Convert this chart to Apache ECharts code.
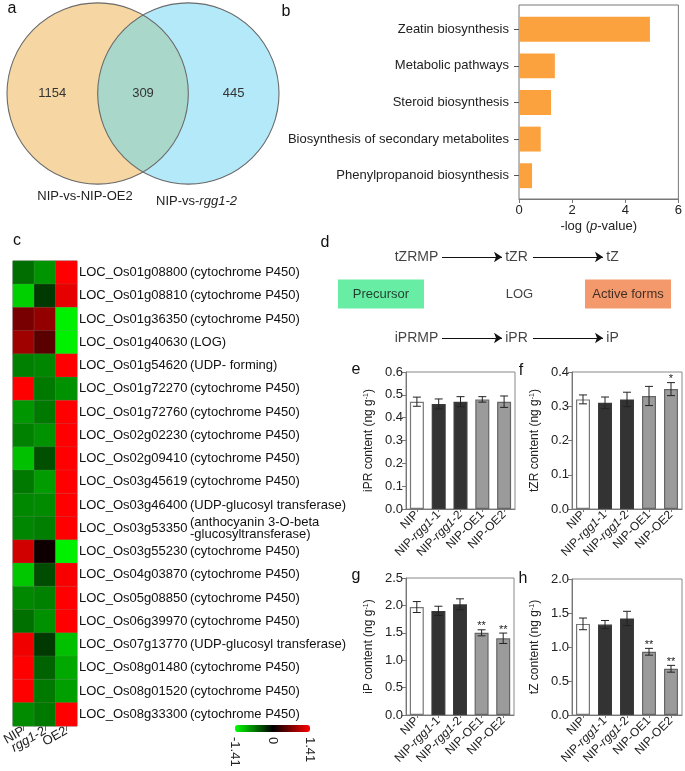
<!DOCTYPE html>
<html><head><meta charset="utf-8">
<script src="https://cdn.jsdelivr.net/npm/echarts@6/dist/echarts.min.js"></script>
<style>html,body{margin:0;padding:0;background:#fff}#c{width:685px;height:771px}</style>
</head><body><div id="c"></div>
<script>
const FONT = 'Liberation Sans, Arial, Helvetica, sans-serif';

// ---------- a: Venn ----------
const vennSetNames = ['NIP-vs-NIP-OE2', 'NIP-vs-rgg1-2'];
const vennCounts = [1154, 309, 445]; // left only, shared, right only

// ---------- b: KEGG enrichment ----------
const keggTerms = ['Zeatin biosynthesis', 'Metabolic pathways', 'Steroid biosynthesis',
  'Biosynthesis of secondary metabolites', 'Phenylpropanoid biosynthesis'];
const keggValues = [4.82, 1.32, 1.18, 0.80, 0.48];

// ---------- c: heatmap ----------
const heatCols = ['NIP', 'rgg1-2', 'OE2'];
const geneIds = ['LOC_Os01g08800', 'LOC_Os01g08810', 'LOC_Os01g36350', 'LOC_Os01g40630', 'LOC_Os01g54620',
  'LOC_Os01g72270', 'LOC_Os01g72760', 'LOC_Os02g02230', 'LOC_Os02g09410', 'LOC_Os03g45619',
  'LOC_Os03g46400', 'LOC_Os03g53350', 'LOC_Os03g55230', 'LOC_Os04g03870', 'LOC_Os05g08850',
  'LOC_Os06g39970', 'LOC_Os07g13770', 'LOC_Os08g01480', 'LOC_Os08g01520', 'LOC_Os08g33300'];
const geneDesc = ['(cytochrome P450)', '(cytochrome P450)', '(cytochrome P450)', '(LOG)', '(UDP- forming)',
  '(cytochrome P450)', '(cytochrome P450)', '(cytochrome P450)', '(cytochrome P450)', '(cytochrome P450)',
  '(UDP-glucosyl transferase)', '(anthocyanin 3-O-beta\n-glucosyltransferase)', '(cytochrome P450)',
  '(cytochrome P450)', '(cytochrome P450)', '(cytochrome P450)', '(UDP-glucosyl transferase)',
  '(cytochrome P450)', '(cytochrome P450)', '(cytochrome P450)'];
const heatNIP = [-0.61, -1.15, 0.67, 0.88, -0.71, 1.41, -0.83, -0.72, -1.06, -0.67,
  -0.76, -0.74, 1.15, -1.10, -0.75, -0.62, 1.33, 1.41, 1.41, -0.77];
const heatRgg = [-0.82, -0.32, 0.82, 0.50, -0.74, -0.67, -0.67, -0.81, -0.44, -0.86,
  -0.77, -0.70, 0.08, -0.42, -0.72, -0.80, -0.32, -0.54, -0.67, -0.67];
const heatOE2 = [1.41, 1.28, -1.33, -1.33, 1.41, -0.80, 1.41, 1.41, 1.41, 1.41,
  1.41, 1.41, -1.33, 1.37, 1.41, 1.41, -1.06, -0.93, -0.88, 1.41];
const colorRange = [-1.41, 1.41];

// ---------- d: pathway scheme ----------
const pathwayRows = [['tZRMP', 'tZR', 'tZ'], ['iPRMP', 'iPR', 'iP']];
const schemeBoxes = ['Precursor', 'LOG', 'Active forms'];

// ---------- e-h: cytokinin contents ----------
const genotypes = ['NIP', 'NIP-rgg1-1', 'NIP-rgg1-2', 'NIP-OE1', 'NIP-OE2'];
const iprMean = [0.47, 0.46, 0.47, 0.48, 0.47];
const iprErr = [0.02, 0.022, 0.022, 0.012, 0.025];
const iprSig = ['', '', '', '', ''];
const tzrMean = [0.32, 0.31, 0.32, 0.33, 0.35];
const tzrErr = [0.013, 0.017, 0.021, 0.028, 0.019];
const tzrSig = ['', '', '', '', '*'];
const ipMean = [1.97, 1.90, 2.02, 1.50, 1.40];
const ipErr = [0.10, 0.085, 0.10, 0.055, 0.095];
const ipSig = ['', '', '', '**', '**'];
const tzMean = [1.34, 1.33, 1.42, 0.93, 0.68];
const tzErr = [0.086, 0.06, 0.105, 0.05, 0.05];
const tzSig = ['', '', '', '**', '**'];

// ---------- layout / styles ----------
const VENN = { centers: [0, 1], radius: 1, countX: [-0.5, 0.5, 1.5], nameX: [-0.14, 1.09], nameY: [-1.14, -1.19] };
const SCHEME = { nodeX: [86.5, 186.5, 282.5], rowY: [27, 108], arrows: [[112, 172], [203, 273]],
  boxX: [51, 189.5, 298], boxY: 64, boxColors: ['#41E98D', null, '#F07F46'] };
const barFill = ['#ffffff', '#333333', '#333333', '#9b9b9b', '#9b9b9b'];
const barStroke = ['#777777', '#3a3a3a', '#3a3a3a', '#666666', '#666666'];

const chart = echarts.init(document.getElementById('c'), null, { renderer: 'canvas' });

const grids = [], xAxes = [], yAxes = [], series = [];

// a: Venn grid 0
grids.push({ left: 7, top: 3, width: 272, height: 181 });
xAxes.push({ gridIndex: 0, type: 'value', min: -1, max: 2, show: false });
yAxes.push({ gridIndex: 0, type: 'value', min: -1, max: 1, show: false });
series.push({
  type: 'custom', xAxisIndex: 0, yAxisIndex: 0, data: [[0]], silent: true,
  renderItem: function (params, api) {
    const c1 = api.coord([VENN.centers[0], 0]);
    const c2 = api.coord([VENN.centers[1], 0]);
    const R = api.size([VENN.radius, 0])[0];
    const mx = (c1[0] + c2[0]) / 2, cy = c1[1];
    const d = c2[0] - c1[0];
    const h = Math.sqrt(R * R - (d / 2) * (d / 2));
    const lens = 'M' + mx + ',' + (cy - h) + ' A' + R + ',' + R + ' 0 0 1 ' + mx + ',' + (cy + h) +
      ' A' + R + ',' + R + ' 0 0 1 ' + mx + ',' + (cy - h) + ' Z';
    const ch = [
      { type: 'circle', shape: { cx: c1[0], cy: cy, r: R }, style: { fill: '#F6D7A3' } },
      { type: 'circle', shape: { cx: c2[0], cy: cy, r: R }, style: { fill: '#B3E9F8' } },
      { type: 'path', shape: { pathData: lens }, style: { fill: '#A9D7CA' } },
      { type: 'circle', shape: { cx: c1[0], cy: cy, r: R }, style: { fill: 'none', stroke: '#6a6a6a', lineWidth: 1.1 } },
      { type: 'circle', shape: { cx: c2[0], cy: cy, r: R }, style: { fill: 'none', stroke: '#6a6a6a', lineWidth: 1.1 } }
    ];
    vennCounts.forEach(function (v, i) {
      const p = api.coord([VENN.countX[i], 0]);
      ch.push({ type: 'text', x: p[0], y: p[1], style: { text: String(v), fill: '#333', font: '13px ' + FONT, align: 'center', verticalAlign: 'middle' } });
    });
    vennSetNames.forEach(function (n, i) {
      const p = api.coord([VENN.nameX[i], VENN.nameY[i]]);
      const t = n.replace('rgg1-2', '{i|rgg1-2}');
      ch.push({ type: 'text', x: p[0], y: p[1], style: { text: t, fill: '#222', font: '13px ' + FONT, align: 'center', verticalAlign: 'middle',
        rich: { i: { fontStyle: 'italic', fontSize: 13, fontFamily: FONT, fill: '#222' } } } });
    });
    return { type: 'group', children: ch };
  }
});

// b: grid 1 (frame + x axis), grid 2 (bars)
grids.push({ left: 519, top: 5, width: 163, height: 194, show: true, borderColor: '#777', borderWidth: 1 });
xAxes.push({ gridIndex: 1, type: 'value', min: 0, max: 6, interval: 2,
  axisLine: { show: true, lineStyle: { color: '#777' } },
  axisTick: { show: true, length: 4, lineStyle: { color: '#777' } },
  splitLine: { show: false },
  axisLabel: { fontSize: 13, color: '#222', fontFamily: FONT, margin: 5 },
  name: '-log ({i|p}-value)', nameLocation: 'middle', nameGap: 21,
  nameTextStyle: { fontSize: 13, color: '#222', fontFamily: FONT, rich: { i: { fontStyle: 'italic', fontSize: 13, fontFamily: FONT, color: '#222' } } } });
yAxes.push({ gridIndex: 1, type: 'value', min: 0, max: 1, show: false });
grids.push({ left: 519, top: 11, width: 163, height: 183 });
xAxes.push({ gridIndex: 2, type: 'value', min: 0, max: 6, show: false });
yAxes.push({ gridIndex: 2, type: 'category', data: keggTerms, inverse: true,
  axisLine: { show: false }, axisTick: { show: true, length: 5, alignWithLabel: true, lineStyle: { color: '#555' } },
  axisLabel: { interval: 0, fontSize: 13, color: '#222', fontFamily: FONT, margin: 10 } });
series.push({ type: 'bar', xAxisIndex: 2, yAxisIndex: 2, data: keggValues, barWidth: '68%',
  itemStyle: { color: '#FBA23F' }, silent: true });

// c: heatmap grid 3
grids.push({ left: 7, top: 261, width: 70, height: 465, show: true, borderColor: '#999', borderWidth: 1 });
xAxes.push({ gridIndex: 3, type: 'category', data: heatCols,
  axisLine: { show: false }, axisTick: { show: true, length: 5, alignWithLabel: true, lineStyle: { color: '#666' } },
  splitArea: { show: false },
  axisLabel: { interval: 0, rotate: 30, fontSize: 13, color: '#222', fontFamily: FONT, margin: 4,
    formatter: function (v) { return v.indexOf('rgg1') === 0 ? '{i|rgg1}-2' : v; },
    rich: { i: { fontStyle: 'italic', fontSize: 13, fontFamily: FONT, color: '#222' } } } });
yAxes.push({ gridIndex: 3, type: 'category', data: geneIds, inverse: true, position: 'right',
  axisLine: { show: false }, axisTick: { show: false }, splitArea: { show: false },
  axisLabel: { interval: 0, align: 'left', margin: 2, fontSize: 13, color: '#111', fontFamily: FONT } });
yAxes.push({ gridIndex: 3, type: 'category', data: geneDesc, inverse: true, position: 'right', offset: 111,
  axisLine: { show: false }, axisTick: { show: false }, splitArea: { show: false },
  axisLabel: { interval: 0, align: 'left', margin: 2, fontSize: 13, color: '#111', fontFamily: FONT,
    formatter: function (v) { return v.indexOf('\n') >= 0 ? v.split('\n').map(function (s) { return '{s|' + s + '}'; }).join('\n') : v; },
    rich: { s: { fontSize: 13, lineHeight: 12, fontFamily: FONT, color: '#111' } } } });
const heatData = [];
[heatNIP, heatRgg, heatOE2].forEach(function (arr, ci) { arr.forEach(function (v, ri) { heatData.push([ci, ri, v]); }); });
const heatSeriesIndex = series.length;
series.push({ type: 'heatmap', xAxisIndex: 3, yAxisIndex: 3, data: heatData, silent: true,
  itemStyle: { borderColor: 'rgba(140,140,140,0.35)', borderWidth: 0.6 } });

// colorbar labels grid 4
grids.push({ left: 235, top: 725, width: 75, height: 7 });
xAxes.push({ gridIndex: 4, type: 'value', min: colorRange[0], max: colorRange[1], interval: 1.41,
  axisLine: { show: false }, axisTick: { show: false }, splitLine: { show: false },
  axisLabel: { rotate: -90, fontSize: 13, color: '#222', fontFamily: FONT, margin: 5,
    formatter: function (v) { return Math.abs(v) < 1e-9 ? '0' : v.toFixed(2); } } });
yAxes.push({ gridIndex: 4, type: 'value', show: false, min: 0, max: 1 });

// d: scheme grid 5
grids.push({ left: 330, top: 230, width: 355, height: 130 });
xAxes.push({ gridIndex: 5, type: 'value', min: 0, max: 355, show: false });
yAxes.push({ gridIndex: 5, type: 'value', min: 0, max: 130, inverse: true, show: false });
const nodeData = [];
pathwayRows.forEach(function (row, r) { row.forEach(function (n, i) { nodeData.push({ name: n, value: [SCHEME.nodeX[i], SCHEME.rowY[r]] }); }); });
series.push({ type: 'scatter', xAxisIndex: 5, yAxisIndex: 6, data: nodeData, symbolSize: 1, silent: true,
  itemStyle: { color: 'rgba(0,0,0,0)' },
  label: { show: true, position: 'inside', formatter: '{b}', fontSize: 14, color: '#111', fontFamily: FONT } });
series.push({ type: 'scatter', xAxisIndex: 5, yAxisIndex: 6, symbol: 'rect', symbolSize: [86, 29], silent: true,
  data: schemeBoxes.map(function (n, i) { return { name: n, value: [SCHEME.boxX[i], SCHEME.boxY],
    itemStyle: { color: SCHEME.boxColors[i] || 'rgba(0,0,0,0)' } }; }),
  label: { show: true, position: 'inside', formatter: '{b}', fontSize: 13, color: '#111', fontFamily: FONT } });
const arrowData = [];
SCHEME.rowY.forEach(function (y) { SCHEME.arrows.forEach(function (a) { arrowData.push({ coords: [[a[0], y], [a[1], y]] }); }); });
series.push({ type: 'lines', coordinateSystem: 'cartesian2d', xAxisIndex: 5, yAxisIndex: 6, data: arrowData, silent: true,
  symbol: ['none', 'arrow'], symbolSize: 8, lineStyle: { color: '#111', width: 1, opacity: 1 } });

// e-h bar panels
function errRenderer(sig) {
  return function (params, api) {
    const i = api.value(0), m = api.value(1), e = api.value(2);
    const top = api.coord([i, m + e]);
    const bot = api.coord([i, m - e]);
    const hw = 4;
    const st = { stroke: '#222', lineWidth: 1 };
    const ch = [
      { type: 'line', shape: { x1: top[0], y1: top[1], x2: bot[0], y2: bot[1] }, style: st },
      { type: 'line', shape: { x1: top[0] - hw, y1: top[1], x2: top[0] + hw, y2: top[1] }, style: st },
      { type: 'line', shape: { x1: bot[0] - hw, y1: bot[1], x2: bot[0] + hw, y2: bot[1] }, style: st }
    ];
    const s = sig[params.dataIndex];
    if (s) ch.push({ type: 'text', x: top[0], y: top[1] + 2, style: { text: s, fill: '#222', font: '11px ' + FONT, align: 'center', verticalAlign: 'bottom' } });
    return { type: 'group', children: ch };
  };
}
const panels = [
  { g: { left: 406, top: 372, width: 109, height: 137 }, mean: iprMean, err: iprErr, sig: iprSig, max: 0.6, interval: 0.1, name: 'iPR content (ng g' },
  { g: { left: 572, top: 372, width: 110, height: 137 }, mean: tzrMean, err: tzrErr, sig: tzrSig, max: 0.4, interval: 0.1, name: 'tZR content (ng g' },
  { g: { left: 406, top: 578, width: 108, height: 137 }, mean: ipMean, err: ipErr, sig: ipSig, max: 2.5, interval: 0.5, name: 'iP content (ng g' },
  { g: { left: 572, top: 579, width: 110, height: 136 }, mean: tzMean, err: tzErr, sig: tzSig, max: 2.0, interval: 0.5, name: 'tZ content (ng g' }
];
panels.forEach(function (p) {
  const gi = grids.length;
  grids.push(Object.assign({ show: true, borderColor: '#888', borderWidth: 1 }, p.g));
  const xi = xAxes.length, yi = yAxes.length;
  xAxes.push({ gridIndex: gi, type: 'category', data: genotypes,
    axisLine: { show: true, lineStyle: { color: '#777' } },
    axisTick: { show: true, length: 3, alignWithLabel: true, lineStyle: { color: '#777' } },
    axisLabel: { interval: 0, rotate: 45, fontSize: 12, color: '#222', fontFamily: FONT, margin: 4,
      formatter: function (v) { return v.replace('rgg1', '{i|rgg1}'); },
      rich: { i: { fontStyle: 'italic', fontSize: 12, fontFamily: FONT, color: '#222' } } } });
  yAxes.push({ gridIndex: gi, type: 'value', min: 0, max: p.max, interval: p.interval,
    axisLine: { show: true, lineStyle: { color: '#777' } },
    axisTick: { show: true, length: 4, lineStyle: { color: '#777' } },
    splitLine: { show: false },
    axisLabel: { fontSize: 13, color: '#222', fontFamily: FONT, margin: 3, formatter: function (v) { return v.toFixed(1); } },
    name: '{n|' + p.name + '}{s|-1}{n|)}', nameLocation: 'middle', nameGap: 31,
    nameTextStyle: { fontSize: 12, color: '#222', fontFamily: FONT,
      rich: { n: { fontSize: 12, fontFamily: FONT, color: '#222' }, s: { fontSize: 7, fontFamily: FONT, color: '#222', verticalAlign: 'top' } } } });
  series.push({ type: 'bar', xAxisIndex: xi, yAxisIndex: yi, barWidth: 14, silent: true,
    data: p.mean.map(function (v, i) { return { value: v, itemStyle: { color: barFill[i], borderColor: barStroke[i], borderWidth: 1.2 } }; }) });
  series.push({ type: 'custom', xAxisIndex: xi, yAxisIndex: yi, silent: true, z: 5,
    data: p.mean.map(function (v, i) { return [i, v, p.err[i]]; }),
    renderItem: errRenderer(p.sig) });
});

// panel letters
const letters = [['a', 12, 9], ['b', 286, 12], ['c', 17, 241], ['d', 325, 243], ['e', 356, 370], ['f', 521, 371], ['g', 356, 576], ['h', 523, 579]];

chart.setOption({
  animation: false,
  backgroundColor: '#fff',
  textStyle: { fontFamily: FONT },
  grid: grids, xAxis: xAxes, yAxis: yAxes, series: series,
  visualMap: [{ type: 'continuous', seriesIndex: heatSeriesIndex, min: colorRange[0], max: colorRange[1],
    orient: 'horizontal', left: 235, top: 725, itemWidth: 7, itemHeight: 75, padding: 0,
    calculable: false, hoverLink: false, text: null, showLabel: false,
    inRange: { color: ['#00ff00', '#000000', '#ff0000'] } }],
  graphic: letters.map(function (l) {
    return { type: 'text', x: l[1], y: l[2], silent: true,
      style: { text: l[0], font: '16px ' + FONT, fill: '#111', align: 'center', verticalAlign: 'middle' } };
  })
});
</script></body></html>
